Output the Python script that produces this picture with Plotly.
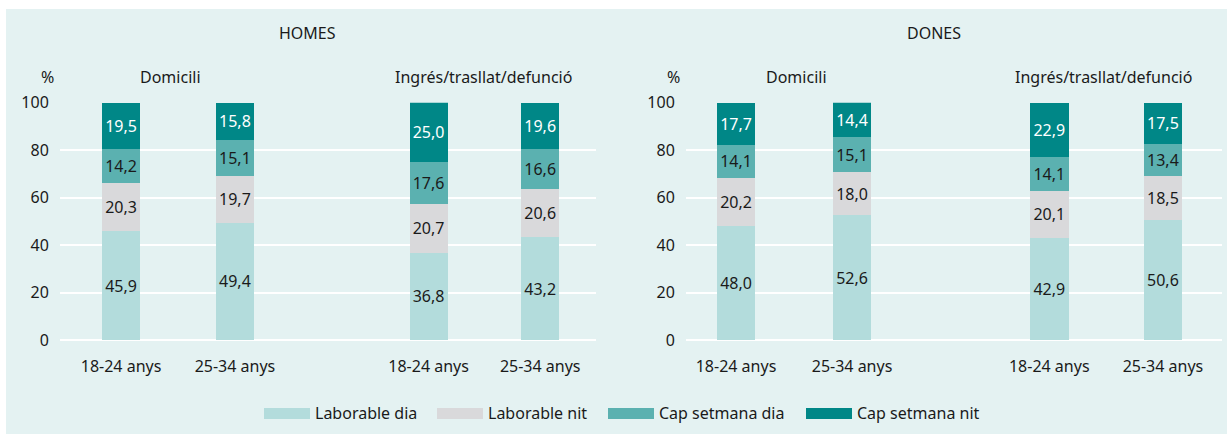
import plotly.graph_objects as go

# ---- data ----
groups = ["HOMES", "DONES"]
places = ["Domicili", "Ingrés/trasllat/defunció"]
ages = ["18-24 anys", "25-34 anys"]
series_names = ["Laborable dia", "Laborable nit", "Cap setmana dia", "Cap setmana nit"]
# order per group: Domicili 18-24, Domicili 25-34, Ingrés 18-24, Ingrés 25-34
homes_laborable_dia = [45.9, 49.4, 36.8, 43.2]
homes_laborable_nit = [20.3, 19.7, 20.7, 20.6]
homes_cap_dia = [14.2, 15.1, 17.6, 16.6]
homes_cap_nit = [19.5, 15.8, 25.0, 19.6]
dones_laborable_dia = [48.0, 52.6, 42.9, 50.6]
dones_laborable_nit = [20.2, 18.0, 20.1, 18.5]
dones_cap_dia = [14.1, 15.1, 14.1, 13.4]
dones_cap_nit = [17.7, 14.4, 22.9, 17.5]
y_ticks = [0, 20, 40, 60, 80, 100]

# ---- styles ----
colors = ["#b3dcdc", "#d9d9db", "#5bb1b0", "#008787"]
text_colors = ["#1a1a1a", "#1a1a1a", "#1a1a1a", "#ffffff"]
BG = "#e4f2f2"
FONT = "Noto Sans"
DARK = "#1a1a1a"
W, H = 1227, 434

positions = [0, 1, 2.7, 3.68]
ticktext = [ages[0], ages[1], ages[0], ages[1]]

data_by_group = [
    [homes_laborable_dia, homes_laborable_nit, homes_cap_dia, homes_cap_nit],
    [dones_laborable_dia, dones_laborable_nit, dones_cap_dia, dones_cap_nit],
]

fig = go.Figure()
for gi, group_series in enumerate(data_by_group):
    xa = "x" if gi == 0 else "x2"
    ya = "y" if gi == 0 else "y2"
    for si, vals in enumerate(group_series):
        fig.add_trace(go.Bar(
            x=positions, y=vals, name=series_names[si],
            xaxis=xa, yaxis=ya, width=0.333,
            marker=dict(color=colors[si], line=dict(width=0)),
            texttemplate="%{y:.1f}", textposition="inside",
            insidetextanchor="middle", textangle=0, constraintext="none",
            textfont=dict(family=FONT, size=16, color=text_colors[si]),
            showlegend=False, hoverinfo="skip",
        ))

def px_x(p):
    return p / W

def px_y(p):
    return (H - p) / H

ydom = [px_y(340), px_y(102.7)]
common_y = dict(range=[0, 100], tickvals=y_ticks, showgrid=True, gridcolor="white",
                gridwidth=2, zeroline=True, zerolinecolor="white", zerolinewidth=2,
                ticks="outside", ticklen=7, tickcolor="rgba(0,0,0,0)", automargin=False,
                tickfont=dict(family=FONT, size=16, color=DARK), domain=ydom, fixedrange=True)
common_x = dict(tickvals=positions, ticktext=ticktext, showgrid=False, zeroline=False,
                ticks="outside", ticklen=12, tickcolor="rgba(0,0,0,0)", automargin=False,
                tickfont=dict(family=FONT, size=16, color=DARK), fixedrange=True)

fig.update_layout(
    width=W, height=H, autosize=False,
    margin=dict(l=0, r=0, t=0, b=0, pad=0, autoexpand=False),
    paper_bgcolor="white", plot_bgcolor="rgba(0,0,0,0)",
    barmode="stack", separators=",.", showlegend=False,
    font=dict(family=FONT, size=16, color=DARK),
    xaxis=dict(domain=[px_x(60), px_x(596)], range=[-0.536, 4.17], anchor="y", **common_x),
    yaxis=dict(anchor="x", **common_y),
    xaxis2=dict(domain=[px_x(686), px_x(1222)], range=[-0.431, 4.189], anchor="y2", **common_x),
    yaxis2=dict(anchor="x2", **common_y),
)

# background panel
fig.add_shape(type="rect", xref="paper", yref="paper", x0=px_x(6), x1=1, y0=0, y1=px_y(9),
              fillcolor=BG, line=dict(width=0), layer="below")

# titles
annos = []
def txt(x, y, s, anchor="center"):
    annos.append(dict(x=px_x(x), y=px_y(y), xref="paper", yref="paper", text=s,
                      showarrow=False, xanchor=anchor, yanchor="middle",
                      font=dict(family=FONT, size=16, color=DARK)))

txt(307, 33, groups[0])
txt(934, 33, groups[1])
for pct_x, dom_x, ing_x in [(47, 170, 483), (673, 796, 1103)]:
    txt(pct_x, 77, "%")
    txt(dom_x, 77, places[0])
    txt(ing_x, 77, places[1])

# legend (custom)
legend_swatch_x = [264, 437, 608, 806]
for i, name in enumerate(series_names):
    x0 = legend_swatch_x[i]
    fig.add_shape(type="rect", xref="paper", yref="paper", x0=px_x(x0), x1=px_x(x0 + 46),
                  y0=px_y(419), y1=px_y(408), fillcolor=colors[i], line=dict(width=0))
    txt(x0 + 49, 413, name, anchor="left")

fig.update_layout(annotations=annos)

post = (
    "document.documentElement.style.margin='0';"
    "document.documentElement.style.overflow='hidden';"
    "document.body.style.margin='0';"
    "document.body.style.overflow='hidden';"
    "var d=document.getElementById('{plot_id}');"
    "d.style.position='fixed';d.style.top='0px';d.style.left='0px';"
)
fig.write_html("out.html", config={"displayModeBar": False, "responsive": False}, post_script=post)
